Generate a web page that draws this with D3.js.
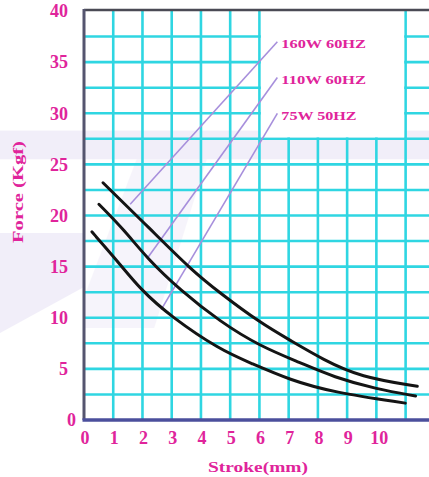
<!DOCTYPE html>
<html>
<head>
<meta charset="utf-8">
<script src="https://cdn.jsdelivr.net/npm/d3@7"></script>
<style>
  body { margin: 0; background: #fff; }
  svg { display: block; }
</style>
</head>
<body>
<div id="chart"></div>
<script>
// data: stroke (mm) vs force (Kgf)
const stroke160 = [0.65, 2.26, 3.66, 4.66, 6.03, 7.05, 8.18, 9.45, 11.4];
const force160  = [23.2, 18.7, 14.7, 12.4, 9.5, 7.8, 5.9, 4.2, 3.3];
const stroke110 = [0.51, 1.37, 2.16, 3.29, 4.66, 6.03, 7.4, 8.53, 10.03, 11.34];
const force110  = [21.1, 18.6, 15.8, 12.7, 9.6, 7.2, 5.6, 4.2, 3.0, 2.35];
const stroke75  = [0.27, 1.13, 1.95, 2.98, 4.66, 5.68, 7.05, 8.53, 10.99];
const force75   = [18.4, 15.6, 12.7, 10.1, 6.85, 5.6, 3.9, 2.7, 1.65];

const seriesNames = ["160W 60HZ", "110W 60HZ", "75W 50HZ"];
// where each pointer line meets its curve (stroke, force) and where its label sits
const pointerStroke = [1.58, 2.16, 2.64];
const pointerForce  = [21.1, 15.8, 10.8];
const labelStroke   = [6.75, 6.75, 6.75];
const labelForce    = [36.8, 33.3, 29.8];

const xTicks = [0, 1, 2, 3, 4, 5, 6, 7, 8, 9, 10];
const yTicks = [5, 10, 15, 20, 25, 30, 35, 40];

const width = 429, height = 477;
const magenta = "#e0249b";
const cyan = "#2fd6e2";

const x = d3.scaleLinear().domain([0, 11.8]).range([84, 429]);
const y = d3.scaleLinear().domain([0, 40]).range([420, 11]);

const svg = d3.select("#chart").append("svg")
    .attr("width", width)
    .attr("height", height);

// faint watermark behind the grid
const wm = svg.append("g").attr("fill", "#c9bde9").attr("opacity", 0.25);
wm.append("rect").attr("x", 0).attr("y", y(28.3)).attr("width", width).attr("height", y(25.5) - y(28.3));
wm.append("path").attr("d", `M0,${y(18.3)} L${x(0)},${y(18.3)} L${x(0)},${y(13)} L0,${y(8.5)} Z`);
wm.append("path").attr("d", `M${x(1.8)},${y(25.5)} L${x(4.2)},${y(25.5)} L${x(2.4)},${y(9)} L${x(0)},${y(9)} L${x(0)},${y(12)} Z`)
    .attr("opacity", 0.6);

// grid
const grid = svg.append("g").attr("stroke", cyan).attr("stroke-width", 2.6);
grid.selectAll("line.v")
  .data(d3.range(1, 12))
  .enter().append("line")
    .attr("class", "v")
    .attr("x1", d => x(d)).attr("x2", d => x(d))
    .attr("y1", y(0)).attr("y2", y(40));
grid.selectAll("line.h")
  .data(d3.range(2.5, 40, 2.5))
  .enter().append("line")
    .attr("class", "h")
    .attr("x1", x(0)).attr("x2", width)
    .attr("y1", d => y(d)).attr("y2", d => y(d));

// white box behind the legend labels
svg.append("rect")
    .attr("x", x(6) + 1.5).attr("y", y(40))
    .attr("width", x(11) - x(6) - 3).attr("height", y(27.5) - y(40) - 1.5)
    .attr("fill", "#fff");

// frame
svg.append("line").attr("x1", x(0)).attr("x2", width).attr("y1", y(40) - 1).attr("y2", y(40) - 1)
    .attr("stroke", "#4a4a55").attr("stroke-width", 2.5);
svg.append("line").attr("x1", x(0)).attr("x2", x(0)).attr("y1", y(40) - 2).attr("y2", y(0))
    .attr("stroke", "#55556f").attr("stroke-width", 3);
svg.append("line").attr("x1", x(0) - 1.5).attr("x2", width).attr("y1", y(0)).attr("y2", y(0))
    .attr("stroke", "#4b4f9c").attr("stroke-width", 3.5);

// tick labels
const tickFont = "'Liberation Serif', 'DejaVu Serif', serif";
svg.append("g").selectAll("text")
  .data(yTicks)
  .enter().append("text")
    .attr("x", 68).attr("y", d => y(d))
    .attr("dy", "0.35em")
    .attr("text-anchor", "end")
    .attr("font-family", tickFont).attr("font-weight", "bold").attr("font-size", 18)
    .attr("fill", magenta)
    .text(d => d);
svg.append("text")
    .attr("x", 76).attr("y", y(0) + 6)
    .attr("text-anchor", "end")
    .attr("font-family", tickFont).attr("font-weight", "bold").attr("font-size", 18)
    .attr("fill", magenta)
    .text("0");
svg.append("g").selectAll("text")
  .data(xTicks)
  .enter().append("text")
    .attr("x", d => x(d) + (d === 10 ? 3 : 1)).attr("y", 444)
    .attr("text-anchor", "middle")
    .attr("font-family", tickFont).attr("font-weight", "bold").attr("font-size", 18)
    .attr("fill", magenta)
    .text(d => d);

// axis titles
svg.append("text")
    .attr("transform", `translate(23, 192) rotate(-90)`)
    .attr("text-anchor", "middle")
    .attr("font-family", tickFont).attr("font-weight", "bold").attr("font-size", 15)
    .attr("textLength", 102).attr("lengthAdjust", "spacingAndGlyphs")
    .attr("fill", magenta)
    .text("Force (Kgf)");
svg.append("text")
    .attr("x", 258).attr("y", 472)
    .attr("text-anchor", "middle")
    .attr("font-family", tickFont).attr("font-weight", "bold").attr("font-size", 15)
    .attr("textLength", 100).attr("lengthAdjust", "spacingAndGlyphs")
    .attr("fill", magenta)
    .text("Stroke(mm)");

// pointer lines
svg.append("g").selectAll("line")
  .data(seriesNames)
  .enter().append("line")
    .attr("x1", (d, i) => x(pointerStroke[i])).attr("y1", (d, i) => y(pointerForce[i]))
    .attr("x2", (d, i) => x(labelStroke[i]) - 4).attr("y2", (d, i) => y(labelForce[i]) - 2)
    .attr("stroke", "#a78fdc").attr("stroke-width", 1.6);

// series labels
svg.append("g").selectAll("text")
  .data(seriesNames)
  .enter().append("text")
    .attr("x", (d, i) => x(labelStroke[i])).attr("y", (d, i) => y(labelForce[i]))
    .attr("dy", "0.35em")
    .attr("font-family", tickFont)
    .attr("font-weight", "bold").attr("font-size", 13)
    .attr("textLength", (d, i) => d.length * 9.4).attr("lengthAdjust", "spacingAndGlyphs")
    .attr("fill", magenta)
    .text(d => d);

// curves
const line = d3.line()
    .x(d => x(d[0]))
    .y(d => y(d[1]))
    .curve(d3.curveBasis);

const curves = [
  d3.zip(stroke160, force160),
  d3.zip(stroke110, force110),
  d3.zip(stroke75, force75)
];

svg.append("g").selectAll("path")
  .data(curves)
  .enter().append("path")
    .attr("d", line)
    .attr("fill", "none")
    .attr("stroke", "#141414")
    .attr("stroke-width", 3)
    .attr("stroke-linecap", "round");
</script>
</body>
</html>
